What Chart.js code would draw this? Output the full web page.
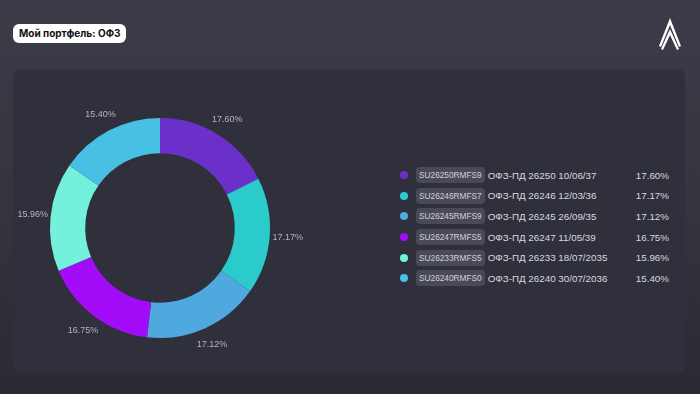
<!DOCTYPE html>
<html>
<head>
<meta charset="utf-8">
<script src="https://cdn.jsdelivr.net/npm/chart.js@4/dist/chart.umd.min.js"></script>
<style>
  html, body { margin: 0; padding: 0; }
  body {
    width: 700px; height: 394px; overflow: hidden; position: relative;
    background: linear-gradient(180deg, #3c3c48 0%, #34343f 55%, #2a2a35 100%);
    font-family: "Liberation Sans", Arial, sans-serif;
  }
  .title {
    position: absolute; left: 13px; top: 24px; height: 19px; padding: 0 6px;
    background: #fff; border-radius: 6px; color: #111;
    font: 700 10px "Inter", sans-serif; line-height: 19px;
  }
  .logo { position: absolute; left: 657px; top: 16px; }
  .card {
    position: absolute; left: 13px; top: 69px; width: 672px; height: 304px;
    background: #30303c; border-radius: 8px;
  }
  .pie { position: absolute; left: 0; top: 88px; width: 320px; height: 280px; }
  .legend { position: absolute; left: 398px; top: 165px; width: 275px; }
  .row { position: relative; height: 20.6px; display: flex; align-items: center; font-size: 9.8px; color: #d8d8de; }
  .dot { width: 8px; height: 8px; border-radius: 50%; margin-left: 2px; margin-right: 8px; }
  .code { background: #4a4a57; color: #d0d0d8; font-size: 8.3px; border-radius: 4px; padding: 0 3px; height: 16px; line-height: 16px; margin-right: 3px; }
  .pct { position: absolute; right: 4px; }
</style>
</head>
<body>
<div class="title">Мой портфель: ОФЗ</div>
<svg class="logo" width="26" height="34" viewBox="0 0 26 34">
  <path d="M13 2 L2 30 L4 31 L13 9 L22 31 L24 30 Z" fill="#ffffff"/>
  <path d="M13 13 L4 33 L6 34 L13 19 L20 34 L22 33 Z" fill="#ffffff"/>
</svg>
<div class="card"></div>
<div class="pie"><canvas id="pie"></canvas></div>
<div class="legend" id="legend"></div>
<script>
const codes = ['SU26250RMFS9', 'SU26246RMFS7', 'SU26245RMFS9', 'SU26247RMFS5', 'SU26233RMFS5', 'SU26240RMFS0'];
const names = ['ОФЗ-ПД 26250 10/06/37', 'ОФЗ-ПД 26246 12/03/36', 'ОФЗ-ПД 26245 26/09/35',
               'ОФЗ-ПД 26247 11/05/39', 'ОФЗ-ПД 26233 18/07/2035', 'ОФЗ-ПД 26240 30/07/2036'];
const shares = [17.60, 17.17, 17.12, 16.75, 15.96, 15.40];
const colors = ['#6b30c9', '#2ccbcb', '#4fa9df', '#a30cf9', '#74f1dc', '#47c0e3'];

const fmt = v => v.toFixed(2) + '%';

// legend on the right
const legend = document.getElementById('legend');
codes.forEach((c, i) => {
  const row = document.createElement('div');
  row.className = 'row';
  row.innerHTML = '<span class="dot" style="background:' + colors[i] + '"></span>' +
    '<span class="code">' + c + '</span><span>' + names[i] + '</span>' +
    '<span class="pct">' + fmt(shares[i]) + '</span>';
  legend.appendChild(row);
});

// percent labels outside the ring
const outsideLabels = {
  id: 'outsideLabels',
  afterDraw(chart) {
    const ctx = chart.ctx;
    ctx.save();
    ctx.font = '9px "Liberation Sans", Arial, sans-serif';
    ctx.fillStyle = '#b4b4bc';
    ctx.textAlign = 'center';
    ctx.textBaseline = 'middle';
    chart.getDatasetMeta(0).data.forEach((arc, i) => {
      const a = (arc.startAngle + arc.endAngle) / 2;
      const r = arc.outerRadius + 18;
      ctx.fillText(fmt(shares[i]), arc.x + Math.cos(a) * r, arc.y + Math.sin(a) * r);
    });
    ctx.restore();
  }
};

new Chart(document.getElementById('pie'), {
  type: 'doughnut',
  data: {
    labels: codes,
    datasets: [{ data: shares, backgroundColor: colors, borderWidth: 0 }]
  },
  options: {
    responsive: true,
    maintainAspectRatio: false,
    animation: false,
    cutout: '68%',
    layout: { padding: { left: 50, right: 50, top: 20, bottom: 20 } },
    plugins: { legend: { display: false }, tooltip: { enabled: false } }
  },
  plugins: [outsideLabels]
});
</script>
</body>
</html>
